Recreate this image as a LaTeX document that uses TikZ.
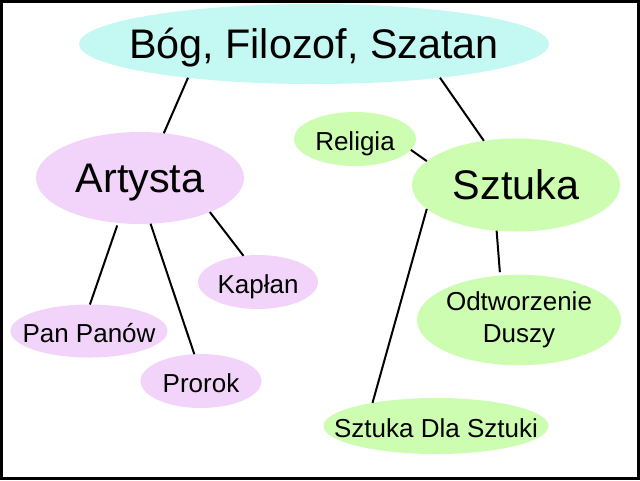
\documentclass[tikz,border=0pt]{standalone}
\usepackage{fontspec}
\setmainfont{Liberation Sans}
\usetikzlibrary{shapes.geometric}
\definecolor{cyanfill}{HTML}{C4F8F2}
\definecolor{pinkfill}{HTML}{F2D4FB}
\definecolor{greenfill}{HTML}{CCFDB0}
\newcommand{\zb}[1]{\makebox[0pt]{#1}}
\begin{document}
\begin{tikzpicture}[x=0.75pt,y=-0.75pt,
  bubble/.style={ellipse,inner sep=0pt,outer sep=0pt,text=black},
  big/.style={font=\fontsize{31}{36}\selectfont,text height=27.5pt,text depth=6.5pt},
  small/.style={font=\fontsize{19.5}{24}\selectfont,text height=20.6pt,text depth=4.1pt},
  twoline/.style={font=\fontsize{19.5}{24}\selectfont},
  cyanb/.style={bubble,fill=cyanfill},
  pinkb/.style={bubble,fill=pinkfill},
  greenb/.style={bubble,fill=greenfill},
  link/.style={line width=1.5pt}]
\useasboundingbox (0,0) rectangle (640,480);
\fill[white] (0,0) rectangle (640,480);
\draw[line width=2.25pt] (1.5,1.5) rectangle (638.5,478.5);

\node[cyanb,big,minimum width=352.5pt,minimum height=60pt] (top) at (314,44) {\zb{Bóg, Filozof, Szatan}};
\node[pinkb,big,minimum width=156pt,minimum height=69pt] (art) at (140,178) {\zb{Artysta}};
\node[greenb,small,minimum width=91.5pt,minimum height=40.5pt] (rel) at (355,139) {\zb{Religia}};
\node[greenb,big,minimum width=156pt,minimum height=69.75pt] (szt) at (516,185) {\zb{Sztuka}};
\node[pinkb,small,minimum width=90pt,minimum height=40.5pt] (kap) at (258,282) {\zb{Kapłan}};
\node[pinkb,small,minimum width=117.75pt,minimum height=39.75pt] (pan) at (89,331) {\zb{Pan Panów}};
\node[pinkb,small,minimum width=90.75pt,minimum height=40.5pt] (pro) at (201,381) {\zb{Prorok}};
\node[greenb,twoline,minimum width=153pt,minimum height=67.5pt] (odt) at (519,320) {\zb{\begin{tabular}{@{}c@{}}Odtworzenie\\Duszy\end{tabular}}};
\node[greenb,small,minimum width=168.75pt,minimum height=42pt] (sds) at (436,426) {\zb{Sztuka Dla Sztuki}};

\draw[link] (top.195.5) -- (art.62.9);
\draw[link] (top.345.5) -- (szt.126.7);
\draw[link] (rel.349.3) -- (szt.165.7);
\draw[link,shorten <=2pt] (art.244.4) -- (pan.88);
\draw[link] (art.283.7) -- (pro.104);
\draw[link] (art.334.1) -- (kap.119.2);
\draw[link] (szt.195.2) -- (sds.160.2);
\draw[link,shorten >=2.5pt] (szt.247) -- (odt.113.6);
\end{tikzpicture}
\end{document}
